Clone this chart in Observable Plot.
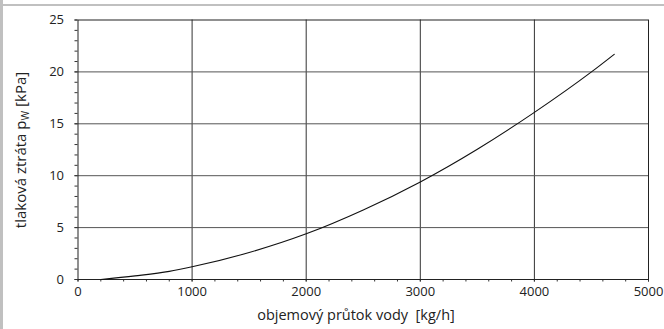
<!DOCTYPE html>
<html>
<head>
<meta charset="utf-8">
<script src="https://cdn.jsdelivr.net/npm/d3@7"></script>
<script src="https://cdn.jsdelivr.net/npm/@observablehq/plot@0.6"></script>
<style>
  html, body { margin: 0; padding: 0; background: #fff; }
  #chart { position: relative; width: 664px; height: 329px; overflow: hidden; }
</style>
</head>
<body>
<div id="chart"></div>
<script>
// Data
const flow = [200, 500, 800, 1000, 1500, 2000, 2500, 3000, 3500, 4000, 4500, 4700]; // kg/h
const pressureLoss = [0, 0.35, 0.78, 1.22, 2.6, 4.4, 6.7, 9.4, 12.55, 16.1, 20.0, 21.7]; // kPa
const xMajorTicks = [0, 1000, 2000, 3000, 4000, 5000];
const xGridTicks = [1000, 2000, 3000, 4000];
const xMinorTicks = d3.range(0, 5001, 200);
const yMajorTicks = [0, 5, 10, 15, 20, 25];
const yGridTicks = [5, 10, 15, 20];
const yMinorTicks = d3.range(0, 26, 1);
const xTitle = "objemový průtok vody  [kg/h]";
const yTitleMain = "tlaková ztráta p";
const yTitleSub = "W";
const yTitleEnd = " [kPa]";

const data = flow.map((f, i) => ({flow: f, loss: pressureLoss[i]}));

const font = "'Open Sans', 'Noto Sans', sans-serif";
const plot = Plot.plot({
  width: 664,
  height: 329,
  marginLeft: 77.5,
  marginRight: 16,
  marginTop: 19.5,
  marginBottom: 50,
  style: {fontFamily: font, color: "#222", background: "transparent", overflow: "visible"},
  x: {domain: [0, 5000]},
  y: {domain: [0, 25]},
  marks: [
    Plot.gridX(xGridTicks, {stroke: "#333", strokeOpacity: 1, strokeWidth: 1}),
    Plot.gridY(yGridTicks, {stroke: "#555", strokeOpacity: 1, strokeWidth: 1}),
    Plot.axisX(xMinorTicks, {tickSize: 2.5, tickFormat: () => "", label: null, stroke: "#333"}),
    Plot.axisY(yMinorTicks, {tickSize: 3, tickFormat: () => "", label: null, stroke: "#333"}),
    Plot.axisX(xMajorTicks, {tickSize: 2.5, tickPadding: 5, fontSize: 13, tickFormat: d => String(d), label: null, stroke: "#333", fill: "#222"}),
    Plot.axisY(yMajorTicks, {tickSize: 3, tickPadding: 11, fontSize: 13, tickFormat: d => String(d), label: null, stroke: "#333", fill: "#222"}),
    Plot.frame({stroke: "#222", strokeWidth: 1}),
    Plot.line(data, {x: "flow", y: "loss", stroke: "#111", strokeWidth: 1.1, curve: "monotone-x"})
  ]
});

const svg = d3.select(plot);
// decorative grey frame of the original screenshot
svg.insert("rect", ":first-child").attr("x", 0).attr("y", 0).attr("width", 3).attr("height", 329).attr("fill", "#c0c0c0");
svg.insert("rect", ":first-child").attr("x", 0).attr("y", 4).attr("width", 664).attr("height", 2).attr("fill", "#c0c0c0");

// axis titles
svg.append("text")
  .attr("x", 356).attr("y", 320)
  .attr("text-anchor", "middle")
  .attr("font-family", font).attr("font-size", 14.5).attr("fill", "#222")
  .text(xTitle);

const yt = svg.append("text")
  .attr("transform", "translate(26,150) rotate(-90)")
  .attr("text-anchor", "middle")
  .attr("font-family", font).attr("font-size", 15).attr("fill", "#222");
yt.append("tspan").text(yTitleMain);
yt.append("tspan").attr("font-size", 10.5).attr("dy", 3).text(yTitleSub);
yt.append("tspan").attr("dy", -3).text(yTitleEnd);

document.getElementById("chart").appendChild(plot);
</script>
</body>
</html>
